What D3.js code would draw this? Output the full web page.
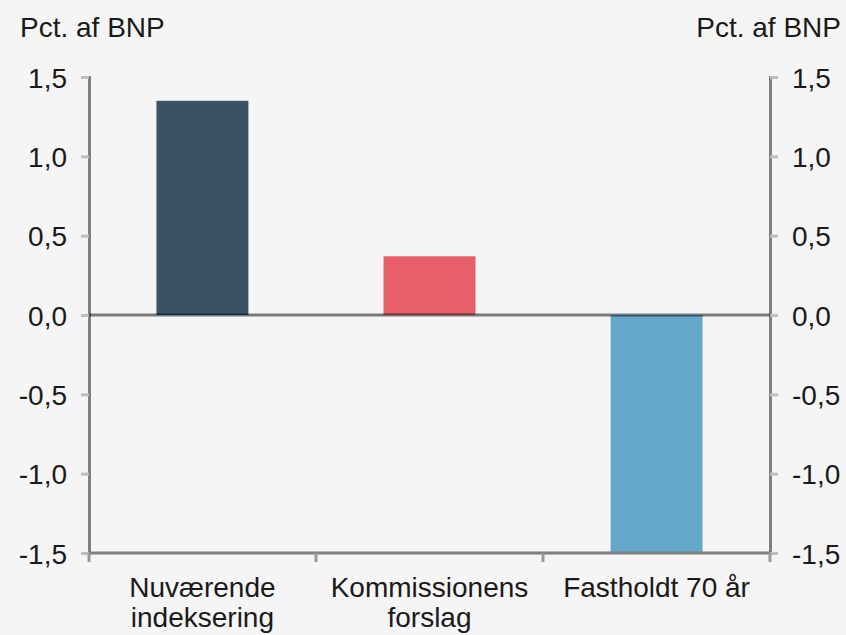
<!DOCTYPE html>
<html>
<head>
<meta charset="utf-8">
<script src="https://cdn.jsdelivr.net/npm/d3@7"></script>
<style>
  body { margin: 0; background: #f5f5f5; }
  svg { display: block; font-family: "Liberation Sans", Arial, sans-serif; }
</style>
</head>
<body>
<div id="chart"></div>
<script>
let categories = [["Nuværende", "indeksering"], ["Kommissionens", "forslag"], ["Fastholdt 70 år"]];
let values = [1.35, 0.37, -1.5];
let colors = ["#3b5264", "#e95f69", "#64a9cc"];
let yTicks = [-1.5, -1.0, -0.5, 0, 0.5, 1.0, 1.5];
let unitLabel = "Pct. af BNP";

let w = 846, h = 635;
let m = {top: 77, right: 76, bottom: 82, left: 89};

let svg = d3.select("#chart")
  .append("svg")
  .attr("width", w)
  .attr("height", h);

let x = d3.scaleBand()
  .domain(d3.range(categories.length))
  .range([m.left, w - m.right])
  .paddingInner(0.595)
  .paddingOuter(0.297);

let y = d3.scaleLinear()
  .domain([-1.5, 1.5])
  .range([h - m.bottom, m.top]);

let fmt = (d) => d3.format(".1f")(d).replace(".", ",").replace("−", "-");

// bars
svg.append("g")
  .selectAll("rect")
  .data(values)
  .enter().append("rect")
  .attr("x", (d, i) => x(i))
  .attr("width", x.bandwidth())
  .attr("y", (d) => y(Math.max(0, d)))
  .attr("height", (d) => Math.abs(y(d) - y(0)))
  .attr("fill", (d, i) => colors[i]);

// left axis
let left = svg.append("g")
  .attr("transform", "translate(" + m.left + ",0)")
  .call(d3.axisLeft(y).tickValues(yTicks).tickFormat(fmt).tickSize(8).tickPadding(14));

// right axis
let right = svg.append("g")
  .attr("transform", "translate(" + (w - m.right) + ",0)")
  .call(d3.axisRight(y).tickValues(yTicks).tickFormat(fmt).tickSize(8).tickPadding(14));

[left, right].forEach((g) => {
  g.select(".domain").attr("stroke", "#7f7f7f").attr("stroke-width", 3);
  g.selectAll(".tick line").attr("stroke", "#bdbdbd").attr("stroke-width", 3);
  g.selectAll(".tick text").attr("fill", "#1a1a1a").attr("font-size", 28).attr("dy", "0.36em");
});

// bottom axis with category ticks between bands
let step = x.step();
let bounds = d3.range(categories.length + 1).map((i) => m.left + i * (w - m.left - m.right) / categories.length);

svg.append("line")
  .attr("x1", m.left).attr("x2", w - m.right)
  .attr("y1", y(-1.5)).attr("y2", y(-1.5))
  .attr("stroke", "#7f7f7f").attr("stroke-width", 3);

svg.append("g")
  .selectAll("line")
  .data(bounds)
  .enter().append("line")
  .attr("x1", (d) => d).attr("x2", (d) => d)
  .attr("y1", y(-1.5)).attr("y2", y(-1.5) + 9)
  .attr("stroke", "#999")
  .attr("stroke-width", 3);

// category labels
let labels = svg.append("g")
  .selectAll("text")
  .data(categories)
  .enter().append("text")
  .attr("x", (d, i) => x(i) + x.bandwidth() / 2)
  .attr("y", 597)
  .attr("text-anchor", "middle")
  .attr("font-size", 28)
  .attr("fill", "#1a1a1a");

labels.selectAll("tspan")
  .data((d) => d)
  .enter().append("tspan")
  .attr("x", function () { return d3.select(this.parentNode).attr("x"); })
  .attr("dy", (d, i) => i === 0 ? 0 : 30)
  .text((d) => d);

// zero line over bars
svg.append("line")
  .attr("x1", m.left).attr("x2", w - m.right)
  .attr("y1", y(0)).attr("y2", y(0))
  .attr("stroke", "rgba(0,0,0,0.5)")
  .attr("stroke-width", 3);

// unit labels
svg.append("text")
  .attr("x", 20).attr("y", 37)
  .attr("font-size", 28).attr("fill", "#1a1a1a")
  .text(unitLabel);

svg.append("text")
  .attr("x", 841).attr("y", 37)
  .attr("text-anchor", "end")
  .attr("font-size", 28).attr("fill", "#1a1a1a")
  .text(unitLabel);
</script>
</body>
</html>
